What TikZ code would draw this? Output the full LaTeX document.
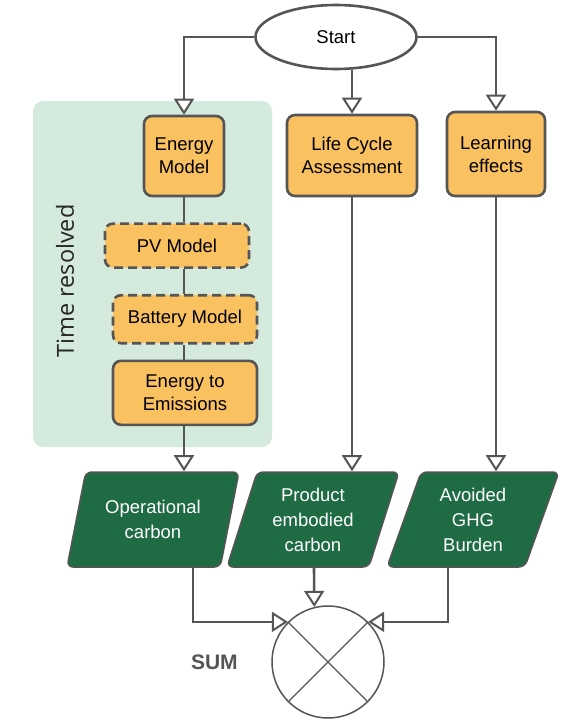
\documentclass[tikz,border=0pt]{standalone}
\usepackage{fontspec}
\setmainfont{Liberation Sans}
\newfontfamily\zonefont{Open Sans}
\usetikzlibrary{
arrows.meta,
positioning,
shapes.geometric
}
\definecolor{linegray}{HTML}{555555}
\definecolor{boxorange}{HTML}{F9C160}
\definecolor{outgreen}{HTML}{1E6B44}
\definecolor{zonemint}{HTML}{D4EADC}
\tikzset{>={Triangle[length=16pt,width=20pt,line width=2pt,fill=white]}}

\begin{document}
\begin{tikzpicture}[x=1pt, y=-1pt, node distance=25pt, font=\fontsize{18.5}{23}\selectfont,
	every node/.style={align=center},
	zone/.style={fill=zonemint, rounded corners=10pt},
	process/.style={draw=linegray, line width=2.6pt, fill=boxorange, rounded corners=8pt, inner sep=2pt},
	submodel/.style={process, dash pattern=on 9pt off 5pt},
	result/.style={trapezium, trapezium left angle=71, trapezium right angle=109, trapezium stretches=true, minimum width=172pt, minimum height=95pt, fill=outgreen, draw=linegray, line width=1.5pt, rounded corners=6pt, text=white, inner sep=0pt, font=\fontsize{18.5}{25}\selectfont},
	flowarrow/.style={draw=linegray, line width=2.6pt, ->},
	link/.style={draw=linegray, line width=2.6pt}]
		\useasboundingbox (0,0) rectangle (560,720);
		\node[zone, minimum width=239pt, minimum height=346pt] (zone) at (152.5,274) {};
		\node[rotate=90, font=\zonefont\fontsize{23.5}{23.5}\selectfont, text=black!85] (zonelabel) at (65,281) {Time resolved};
		
		\node[ellipse, draw=linegray, line width=2.6pt, fill=white, minimum width=161pt, minimum height=64pt] (start) at (336,37) {Start};
		\node[process, minimum width=80pt, minimum height=80pt] (energy) at (184,156) {Energy\\Model};
		\node[process, minimum width=130pt, minimum height=81pt] (lca) at (352,155.5) {Life Cycle\\Assessment};
		\node[process, minimum width=98pt, minimum height=84pt] (learning) at (496,154) {Learning\\effects};
		\node[submodel, minimum width=144pt, minimum height=44pt, below=25pt of energy, xshift=-7pt] (pv) {PV Model};
		\node[submodel, minimum width=144pt, minimum height=48pt, below=25pt of pv, xshift=8pt] (battery) {Battery Model};
		\node[process, minimum width=144pt, minimum height=64pt, below=15pt of battery] (emissions) {Energy to\\Emissions};
		
		\node[result] (operational) at (153,519.5) {Operational\\carbon};
		\node[result] (embodied) at (313,519.5) {Product\\embodied\\carbon};
		\node[result] (avoided) at (473,519.5) {Avoided\\GHG\\Burden};
		
		\node[circle, draw=linegray, line width=1.5pt, minimum size=112pt, inner sep=0pt] (sum) at (328,662) {};
		\draw[linegray, line width=1.3pt] (sum.135) -- (sum.-45) (sum.45) -- (sum.-135);
		\node[font=\bfseries\fontsize{21}{21}\selectfont, text=linegray, left=30pt of sum] (sumlabel) {SUM};
		
		\draw[flowarrow] (start.west) -| (energy.north);
		\draw[flowarrow] (start.south -| lca.north) -- (lca.north);
		\draw[flowarrow] (start.east) -| (learning.north);
		\draw[link] (energy.south) -- (energy.south |- pv.north);
		\draw[link] (pv.south -| energy.south) -- (battery.north -| energy.south);
		\draw[link] (battery.south -| energy.south) -- (emissions.north -| energy.south);
		\draw[flowarrow] (emissions.south -| energy.south) -- (operational.north -| energy.south);
		\draw[flowarrow] (lca.south) -- (lca.south |- embodied.north);
		\draw[flowarrow] (learning.south) -- (learning.south |- avoided.north);
		\draw[flowarrow] ([xshift=40pt]operational.south) |- (sum.135);
		\draw[flowarrow] ([xshift=1pt]embodied.south) -- (sum.104);
		\draw[flowarrow] ([xshift=-25pt]avoided.south) |- (sum.45);
	\end{tikzpicture}
\end{document}
